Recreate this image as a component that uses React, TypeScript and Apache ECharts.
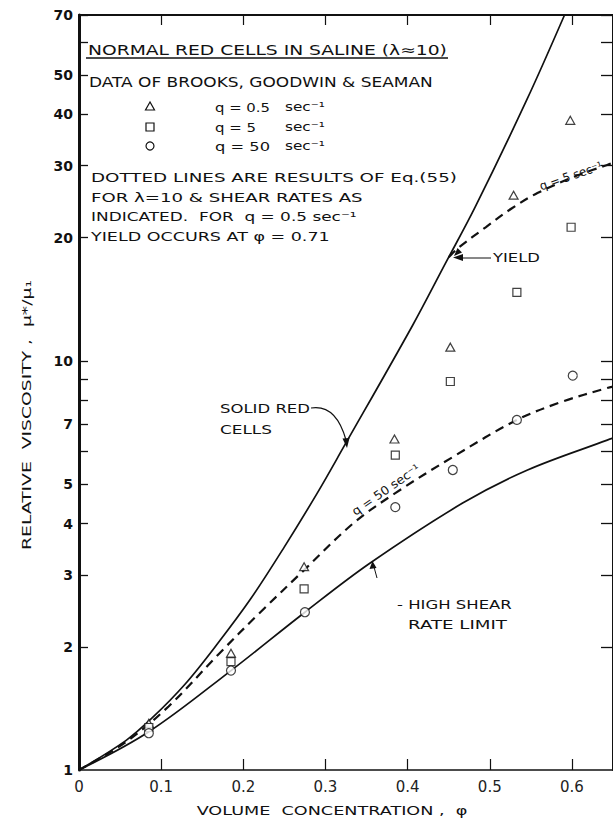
import React, { useEffect, useRef } from "react";
import * as echarts from "echarts";

// ---- data ----
const triX = [0.085, 0.185, 0.274, 0.384, 0.452, 0.529, 0.598];
const triY = [1.3, 1.93, 3.14, 6.44, 10.8, 25.4, 38.7];
const sqX = [0.085, 0.185, 0.274, 0.385, 0.452, 0.533, 0.599];
const sqY = [1.27, 1.84, 2.77, 5.88, 8.9, 14.7, 21.2];
const ciX = [0.085, 0.185, 0.275, 0.385, 0.455, 0.533, 0.601];
const ciY = [1.23, 1.75, 2.43, 4.39, 5.41, 7.17, 9.2];

const solidCellsX = [0, 0.057, 0.089, 0.129, 0.169, 0.209, 0.25, 0.29, 0.322, 0.406, 0.446, 0.482, 0.545, 0.591];
const solidCellsY = [1, 1.18, 1.34, 1.62, 2.04, 2.62, 3.51, 4.75, 6.15, 12.2, 17.3, 23.7, 43.4, 70];

const q50X = [0, 0.057, 0.109, 0.169, 0.218, 0.274, 0.334, 0.385, 0.455, 0.533, 0.587, 0.643, 0.65];
const q50Y = [1, 1.17, 1.43, 1.91, 2.4, 3.08, 4.01, 4.75, 5.82, 7.17, 7.93, 8.58, 8.65];

const q5X = [0.45, 0.462, 0.495, 0.527, 0.558, 0.607, 0.643, 0.65];
const q5Y = [17.9, 18.9, 21.2, 23.6, 25.7, 28.4, 30.1, 30.5];

const highShearX = [0, 0.085, 0.185, 0.275, 0.354, 0.467, 0.546, 0.643, 0.65];
const highShearY = [1, 1.24, 1.75, 2.43, 3.2, 4.49, 5.41, 6.4, 6.47];

const yLabelValues = [1, 2, 3, 4, 5, 7, 10, 20, 30, 40, 50, 70];
const yTickValues = [2, 3, 4, 5, 6, 7, 8, 9, 10, 20, 30, 40, 50, 60, 70];
const xLabelValues = [0, 0.1, 0.2, 0.3, 0.4, 0.5, 0.6];
const xTickValues = [0.1, 0.2, 0.3, 0.4, 0.5, 0.6];

const X_MAX = 0.65;
const Y_MIN = 1;
const Y_MAX = 70;

const FONT = '"DejaVu Sans", sans-serif';
const INK = "#111";

const lg = (v: number) => Math.log10(v);
const pairs = (xs: number[], ys: number[]) => xs.map((x, i) => [x, lg(ys[i])]);

function measure(text: string, size: number, weight = "normal") {
  const ctx = document.createElement("canvas").getContext("2d")!;
  ctx.font = `${weight} ${size}px "DejaVu Sans"`;
  return ctx.measureText(text).width || text.length * size * 0.6;
}

type Note = { text: string; x: number; y: number; w: number; size: number; rot?: number; center?: boolean };

const notes: Note[] = [
  { text: "NORMAL RED CELLS IN SALINE (λ≈10)", x: 88, y: 50, w: 359, size: 14 },
  { text: "DATA OF BROOKS, GOODWIN & SEAMAN", x: 89, y: 82, w: 344, size: 14 },
  { text: "q = 0.5", x: 215, y: 107, w: 55, size: 13 },
  { text: "sec⁻¹", x: 285, y: 106, w: 40, size: 13 },
  { text: "q = 5", x: 215, y: 127, w: 41, size: 13 },
  { text: "sec⁻¹", x: 285, y: 126, w: 40, size: 13 },
  { text: "q = 50", x: 215, y: 146, w: 55, size: 13 },
  { text: "sec⁻¹", x: 285, y: 145, w: 40, size: 13 },
  { text: "DOTTED LINES ARE RESULTS OF Eq.(55)", x: 91, y: 177, w: 366, size: 13 },
  { text: "FOR λ=10 & SHEAR RATES AS", x: 91, y: 197, w: 272, size: 13 },
  { text: "INDICATED.  FOR  q = 0.5 sec⁻¹", x: 91, y: 217, w: 266, size: 13 },
  { text: "YIELD OCCURS AT φ = 0.71", x: 91, y: 237, w: 239, size: 13 },
  { text: "YIELD", x: 493, y: 258, w: 47, size: 12 },
  { text: "SOLID RED", x: 220, y: 409, w: 90, size: 12 },
  { text: "CELLS", x: 220, y: 429, w: 52, size: 12 },
  { text: "- HIGH SHEAR", x: 397, y: 605, w: 115, size: 12 },
  { text: "RATE LIMIT", x: 408, y: 625, w: 99, size: 12 },
  { text: "q = 50 sec⁻¹", x: 386, y: 490, w: 80, size: 12, rot: 35, center: true },
  { text: "q = 5 sec⁻¹", x: 571, y: 176, w: 66, size: 12, rot: 19, center: true },
  { text: "VOLUME  CONCENTRATION ,  φ", x: 332, y: 811, w: 271, size: 13, center: true },
  { text: "RELATIVE  VISCOSITY ,  μ*/μ₁", x: 27, y: 415, w: 270, size: 13, rot: 90, center: true },
];

function buildGraphic() {
  const texts = notes.map((n) => ({
    type: "text",
    x: n.x,
    y: n.y,
    rotation: ((n.rot || 0) * Math.PI) / 180,
    scaleX: n.w / measure(n.text, n.size),
    silent: true,
    style: {
      text: n.text,
      fontSize: n.size,
      fontFamily: FONT,
      fill: INK,
      textAlign: n.center ? "center" : "left",
      verticalAlign: "middle",
      textVerticalAlign: "middle",
    },
  }));
  const stroke = { stroke: INK, lineWidth: 1.2, fill: "none" };
  const shapes: any[] = [
    { type: "line", shape: { x1: 86, y1: 58, x2: 448, y2: 58 }, style: { stroke: INK, lineWidth: 1.5 } },
    { type: "polygon", shape: { points: [[150, 102], [145.5, 110], [154.5, 110]] }, style: { fill: "#fff", stroke: INK, lineWidth: 1.2 } },
    { type: "rect", shape: { x: 146, y: 123, width: 8, height: 8 }, style: { fill: "#fff", stroke: INK, lineWidth: 1.2 } },
    { type: "circle", shape: { cx: 150, cy: 146, r: 4 }, style: { fill: "#fff", stroke: INK, lineWidth: 1.2 } },
    { type: "line", shape: { x1: 460, y1: 258, x2: 491, y2: 258 }, style: { stroke: INK, lineWidth: 1 } },
    { type: "polygon", shape: { points: [[453, 257.5], [463, 254], [463, 261]] }, style: { fill: INK } },
    { type: "polygon", shape: { points: [[454, 256], [462, 252.5], [457.5, 248]] }, style: { fill: INK } },
    { type: "bezierCurve", shape: { x1: 311, y1: 408, cpx1: 336, cpy1: 404, x2: 346, y2: 440 }, style: stroke },
    { type: "polygon", shape: { points: [[347, 448], [342.5, 438.5], [349.5, 438]] }, style: { fill: INK } },
    { type: "line", shape: { x1: 377, y1: 578, x2: 374, y2: 567 }, style: { stroke: INK, lineWidth: 1 } },
    { type: "polygon", shape: { points: [[372.5, 561], [369.5, 569], [376.5, 568]] }, style: { fill: INK } },
  ];
  return [...shapes, ...texts];
}

export default function App() {
  const ref = useRef<HTMLDivElement>(null);

  useEffect(() => {
    if (!ref.current) return;
    const chart = echarts.init(ref.current, undefined, { renderer: "svg" });

    const lineSeries = (name: string, data: number[][], dashed: boolean, width: number) => ({
      name,
      type: "line",
      data,
      smooth: 0.35,
      symbol: "none",
      showSymbol: false,
      xAxisIndex: 0,
      yAxisIndex: 0,
      lineStyle: { color: INK, width, type: dashed ? [9, 6] : "solid" },
      z: 2,
    });

    const scatter = (name: string, data: number[][], symbol: string, size: any) => ({
      name,
      type: "scatter",
      data,
      symbol,
      symbolSize: size,
      xAxisIndex: 0,
      yAxisIndex: 0,
      itemStyle: { color: "#fff", borderColor: INK, borderWidth: 1.2 },
      z: 5,
    });

    const yMin = lg(Y_MIN);
    const yMax = lg(Y_MAX);

    chart.setOption({
      animation: false,
      backgroundColor: "#fff",
      grid: { left: 79, top: 15, bottom: 49, right: -5.5, containLabel: false },
      xAxis: [
        {
          type: "value",
          position: "bottom",
          min: 0,
          max: X_MAX,
          axisLine: { show: true, onZero: false, lineStyle: { color: INK, width: 1.5 } },
          axisTick: { show: true, inside: true, length: 11, customValues: xTickValues, lineStyle: { color: INK, width: 1.2 } },
          axisLabel: {
            show: true,
            customValues: xLabelValues,
            formatter: (v: number) => (v === 0 ? "0" : v.toFixed(1)),
            color: "#222",
            fontSize: 15,
            fontFamily: FONT,
            margin: 9,
          },
          splitLine: { show: false },
        },
        {
          type: "value",
          position: "top",
          min: 0,
          max: X_MAX,
          axisLine: { show: true, onZero: false, lineStyle: { color: INK, width: 2 } },
          axisTick: { show: true, inside: true, length: 10, customValues: xTickValues, lineStyle: { color: INK, width: 1.2 } },
          axisLabel: { show: false },
          splitLine: { show: false },
        },
      ],
      yAxis: [
        {
          type: "value",
          position: "left",
          min: yMin,
          max: yMax,
          axisLine: { show: true, onZero: false, lineStyle: { color: INK, width: 3 } },
          axisTick: { show: true, inside: true, length: 9, customValues: yTickValues.map(lg), lineStyle: { color: INK, width: 1.3 } },
          axisLabel: {
            show: true,
            customValues: yLabelValues.map(lg),
            formatter: (v: number) => String(Math.round(Math.pow(10, v))),
            color: INK,
            fontSize: 14,
            fontWeight: "bold",
            fontFamily: FONT,
            margin: 6,
          },
          splitLine: { show: false },
        },
        {
          type: "value",
          position: "right",
          min: yMin,
          max: yMax,
          axisLine: { show: true, onZero: false, lineStyle: { color: INK, width: 2 } },
          axisTick: { show: true, inside: true, length: 12, customValues: yTickValues.map(lg), lineStyle: { color: INK, width: 1.3 } },
          axisLabel: { show: false },
          splitLine: { show: false },
        },
      ],
      series: [
        lineSeries("Solid red cells", pairs(solidCellsX, solidCellsY), false, 1.7),
        lineSeries("q = 50 sec⁻¹ (Eq. 55)", pairs(q50X, q50Y), true, 2.2),
        lineSeries("q = 5 sec⁻¹ (Eq. 55)", pairs(q5X, q5Y), true, 2.2),
        lineSeries("High shear rate limit", pairs(highShearX, highShearY), false, 1.7),
        scatter("q = 0.5 sec⁻¹", pairs(triX, triY), "triangle", [9, 8]),
        scatter("q = 5 sec⁻¹", pairs(sqX, sqY), "rect", 8),
        scatter("q = 50 sec⁻¹", pairs(ciX, ciY), "circle", 9),
      ],
      graphic: buildGraphic(),
    });

    return () => chart.dispose();
  }, []);

  return (
    <div
      ref={ref}
      style={{ position: "absolute", left: 0, top: 0, width: 613, height: 819, background: "#fff" }}
    />
  );
}
